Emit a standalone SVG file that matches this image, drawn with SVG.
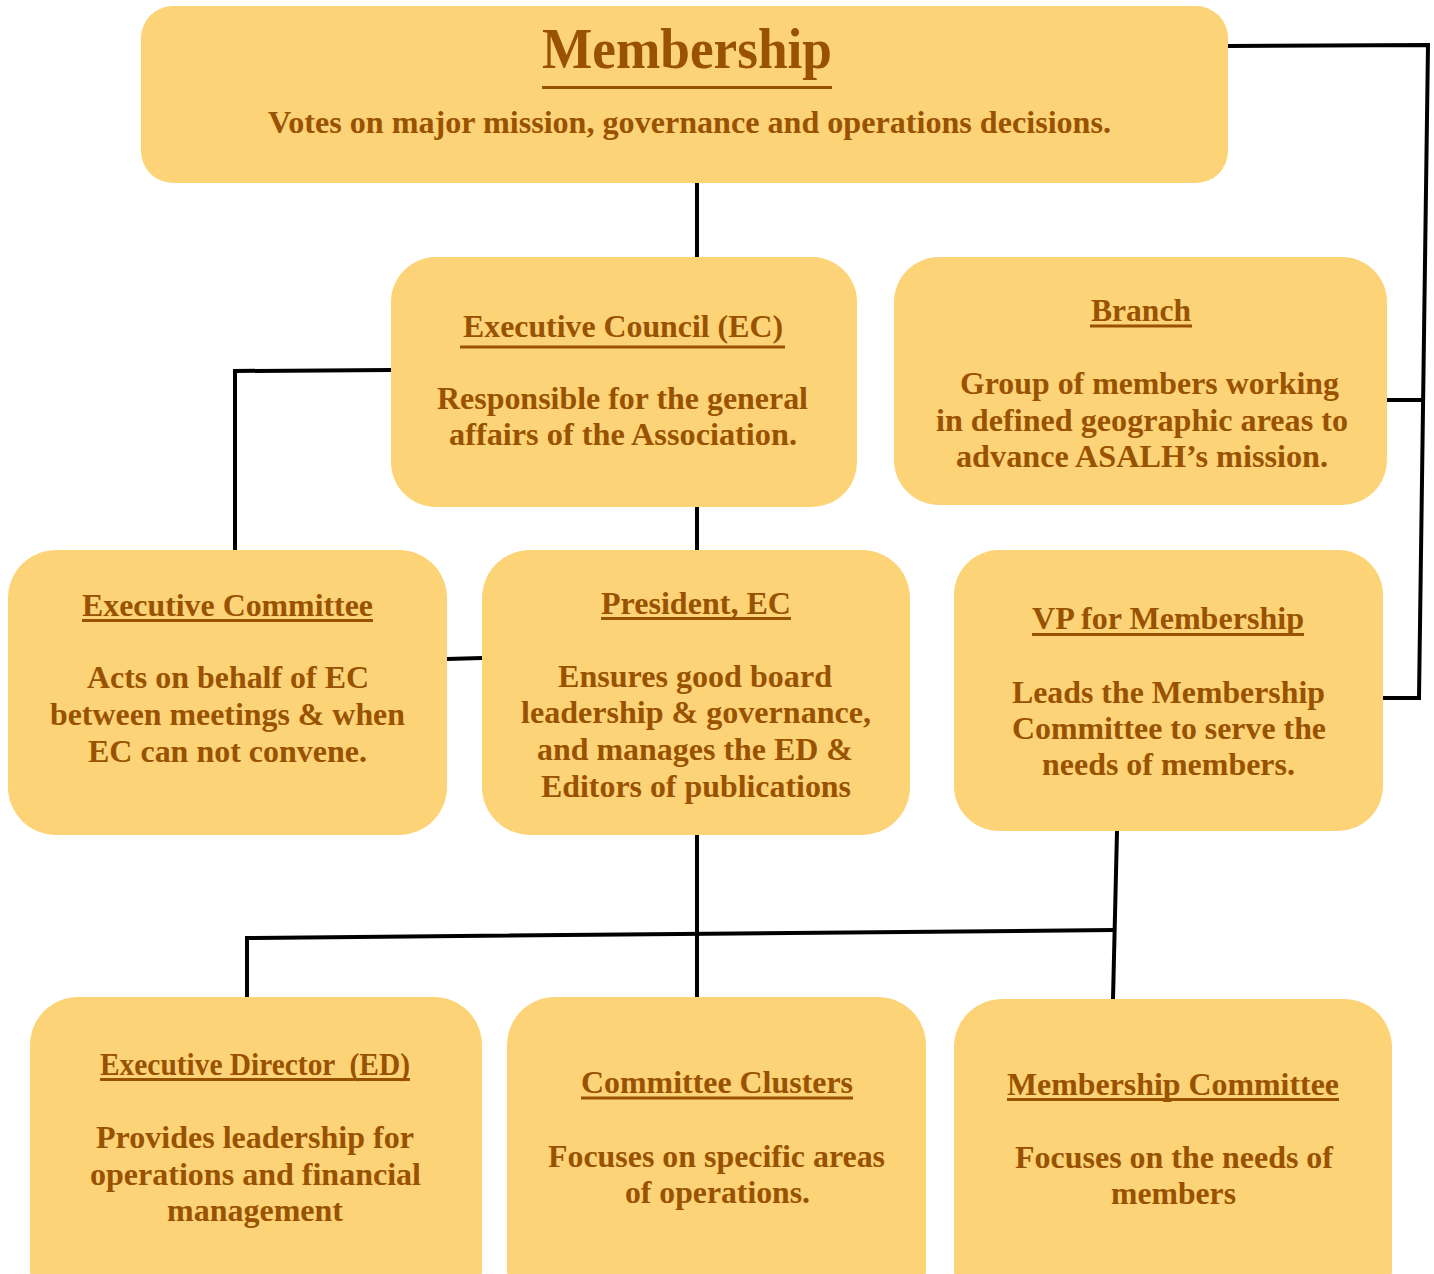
<svg xmlns="http://www.w3.org/2000/svg" width="1434" height="1274" viewBox="0 0 1434 1274">
<style>
.box{fill:#FDD378;}
.t{font-family:"Liberation Serif","Times New Roman",serif;font-weight:bold;fill:#985200;text-anchor:middle;font-size:31px;}
.big{font-size:56px;}
.ul{stroke:#985200;stroke-width:3;}
.c{stroke:#000;stroke-width:4;fill:none;stroke-linejoin:miter;}
</style>
<rect width="1434" height="1274" fill="#fff"/>
<g id="connectors">
<polyline class="c" points="1228,46 1428,45 1419,698 1383,698"/>
<line class="c" x1="1387" y1="400" x2="1422" y2="400"/>
<line class="c" x1="697" y1="183" x2="697" y2="257"/>
<polyline class="c" points="391,370 235,371 235,550"/>
<line class="c" x1="697" y1="507" x2="697" y2="550"/>
<line class="c" x1="447" y1="659" x2="482" y2="658"/>
<line class="c" x1="697" y1="835" x2="697" y2="997"/>
<polyline class="c" points="247,997 247,938 1114,930" stroke-width="5"/>
<line class="c" x1="1117" y1="831" x2="1113" y2="999"/>
</g>
<g id="membership">
<rect class="box" x="141" y="6" width="1087" height="177" rx="32"/>
<text class="t big" x="687" y="68" textLength="290" lengthAdjust="spacingAndGlyphs">Membership</text>
<line class="ul" x1="542" y1="87.5" x2="832" y2="87.5" stroke-width="5"/>
<text class="t" x="689.5" y="133" textLength="843" lengthAdjust="spacingAndGlyphs">Votes on major mission, governance and operations decisions.</text>
</g>
<g id="executive-council">
<rect class="box" x="391" y="257" width="466" height="250" rx="45"/>
<text class="t" x="623" y="337" textLength="320" lengthAdjust="spacingAndGlyphs">Executive Council (EC)</text>
<line class="ul" x1="460" y1="347" x2="785" y2="347"/>
<text class="t" x="622.5" y="409" textLength="371" lengthAdjust="spacingAndGlyphs">Responsible for the general</text>
<text class="t" x="623" y="445" textLength="348" lengthAdjust="spacingAndGlyphs">affairs of the Association.</text>
</g>
<g id="branch">
<rect class="box" x="894" y="257" width="493" height="248" rx="45"/>
<text class="t" x="1141" y="321" textLength="100" lengthAdjust="spacingAndGlyphs">Branch</text>
<line class="ul" x1="1090" y1="326" x2="1192" y2="326"/>
<text class="t" x="1149.5" y="394" textLength="379" lengthAdjust="spacingAndGlyphs">Group of members working</text>
<text class="t" x="1142" y="431" textLength="412" lengthAdjust="spacingAndGlyphs">in defined geographic areas to</text>
<text class="t" x="1142" y="467" textLength="372" lengthAdjust="spacingAndGlyphs">advance ASALH’s mission.</text>
</g>
<g id="executive-committee">
<rect class="box" x="8" y="550" width="439" height="285" rx="48"/>
<text class="t" x="227.5" y="616" textLength="291" lengthAdjust="spacingAndGlyphs">Executive Committee</text>
<line class="ul" x1="82" y1="620.5" x2="373" y2="620.5"/>
<text class="t" x="228" y="688" textLength="282" lengthAdjust="spacingAndGlyphs">Acts on behalf of EC</text>
<text class="t" x="227.5" y="725" textLength="355" lengthAdjust="spacingAndGlyphs">between meetings &amp; when</text>
<text class="t" x="227.5" y="762" textLength="279" lengthAdjust="spacingAndGlyphs">EC can not convene.</text>
</g>
<g id="president">
<rect class="box" x="482" y="550" width="428" height="285" rx="48"/>
<text class="t" x="696" y="614" textLength="190" lengthAdjust="spacingAndGlyphs">President, EC</text>
<line class="ul" x1="601" y1="618.5" x2="791" y2="618.5"/>
<text class="t" x="695" y="687" textLength="274" lengthAdjust="spacingAndGlyphs">Ensures good board</text>
<text class="t" x="696" y="723" textLength="350" lengthAdjust="spacingAndGlyphs">leadership &amp; governance,</text>
<text class="t" x="695" y="760" textLength="316" lengthAdjust="spacingAndGlyphs">and manages the ED &amp;</text>
<text class="t" x="696" y="797" textLength="310" lengthAdjust="spacingAndGlyphs">Editors of publications</text>
</g>
<g id="vp-membership">
<rect class="box" x="954" y="550" width="429" height="281" rx="45"/>
<text class="t" x="1168" y="629" textLength="272" lengthAdjust="spacingAndGlyphs">VP for Membership</text>
<line class="ul" x1="1032" y1="634.5" x2="1304" y2="634.5"/>
<text class="t" x="1168.5" y="703" textLength="313" lengthAdjust="spacingAndGlyphs">Leads the Membership</text>
<text class="t" x="1169" y="739" textLength="314" lengthAdjust="spacingAndGlyphs">Committee to serve the</text>
<text class="t" x="1168.5" y="775" textLength="253" lengthAdjust="spacingAndGlyphs">needs of members.</text>
</g>
<g id="executive-director">
<rect class="box" x="30" y="997" width="452" height="320" rx="48"/>
<text class="t" x="255" y="1075" textLength="310" lengthAdjust="spacingAndGlyphs" xml:space="preserve">Executive Director  (ED)</text>
<line class="ul" x1="100" y1="1079.5" x2="410" y2="1079.5"/>
<text class="t" x="255" y="1148" textLength="318" lengthAdjust="spacingAndGlyphs">Provides leadership for</text>
<text class="t" x="255.5" y="1185" textLength="331" lengthAdjust="spacingAndGlyphs">operations and financial</text>
<text class="t" x="255" y="1221" textLength="176" lengthAdjust="spacingAndGlyphs">management</text>
</g>
<g id="committee-clusters">
<rect class="box" x="507" y="997" width="419" height="320" rx="48"/>
<text class="t" x="717" y="1093" textLength="272" lengthAdjust="spacingAndGlyphs">Committee Clusters</text>
<line class="ul" x1="581" y1="1098" x2="853" y2="1098"/>
<text class="t" x="716.5" y="1167" textLength="337" lengthAdjust="spacingAndGlyphs">Focuses on specific areas</text>
<text class="t" x="717.5" y="1203" textLength="185" lengthAdjust="spacingAndGlyphs">of operations.</text>
</g>
<g id="membership-committee">
<rect class="box" x="954" y="999" width="438" height="318" rx="48"/>
<text class="t" x="1173" y="1095" textLength="332" lengthAdjust="spacingAndGlyphs">Membership Committee</text>
<line class="ul" x1="1007" y1="1099.5" x2="1339" y2="1099.5"/>
<text class="t" x="1174" y="1168" textLength="318" lengthAdjust="spacingAndGlyphs">Focuses on the needs of</text>
<text class="t" x="1173.5" y="1204" textLength="125" lengthAdjust="spacingAndGlyphs">members</text>
</g>
</svg>
